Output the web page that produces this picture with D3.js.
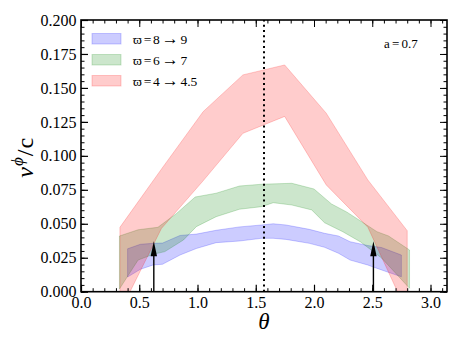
<!DOCTYPE html>
<html>
<head>
<meta charset="utf-8">
<script src="https://cdn.jsdelivr.net/npm/d3@7"></script>
<style>
  html, body { margin: 0; padding: 0; background: #fff; }
  svg { display: block; }
  text { font-family: "Liberation Serif", serif; fill: #000; }
</style>
</head>
<body>
<svg id="chart" width="463" height="347"></svg>
<script>
// ---------------- data ----------------
const seriesNames = [["ϖ", "=", "8", "→", "9"], ["ϖ", "=", "6", "→", "7"], ["ϖ", "=", "4", "→", "4.5"]];
const seriesColors = ["#0000ff", "#008000", "#ff0000"];

// ϖ = 8 → 9 (blue)
const blueTheta = [0.40,0.51,0.62,0.70,0.85,0.99,1.16,1.36,1.55,1.65,1.76,1.96,2.09,2.21,2.31,2.46,2.58,2.75];
const blueUpper = [0.0316,0.0349,0.0356,0.0358,0.0414,0.0424,0.0452,0.0477,0.0491,0.0500,0.0491,0.0459,0.0430,0.0410,0.0368,0.0340,0.0325,0.0270];
const blueLower = [0.0108,0.0165,0.0197,0.0202,0.0270,0.0318,0.0361,0.0373,0.0393,0.0393,0.0385,0.0356,0.0327,0.0283,0.0233,0.0197,0.0160,0.0110];

// ϖ = 6 → 7 (green)
const greenUpperTheta = [0.33,0.49,0.66,0.82,0.98,1.16,1.36,1.55,1.81,2.00,2.15,2.28,2.41,2.54,2.64,2.82];
const greenUpper      = [0.0410,0.0456,0.0474,0.0576,0.0697,0.0725,0.0778,0.0791,0.0798,0.0756,0.0646,0.0587,0.0515,0.0442,0.0410,0.0307];
const greenLowerTheta = [0.33,0.49,0.62,0.72,0.88,0.99,1.16,1.36,1.55,1.65,1.81,1.98,2.09,2.25,2.40,2.58,2.82];
const greenLower      = [0.0020,0.0233,0.0275,0.0295,0.0381,0.0479,0.0552,0.0607,0.0626,0.0655,0.0638,0.0602,0.0508,0.0440,0.0366,0.0248,0.0025];

// ϖ = 4 → 4.5 (red)
const redTheta = [0.334,0.69,1.048,1.39,1.748,2.105,2.462,2.80];
const redUpper = [0.0474,0.0902,0.1325,0.1596,0.1669,0.1314,0.0823,0.0449];
const redLower = [-0.0150,0.0465,0.0816,0.1166,0.1290,0.0786,0.0475,-0.0155];

// arrows and reference line
const arrowTheta = [0.625, 2.51];
const arrowTop = [0.0372, 0.0372];
const vlineTheta = Math.PI / 2;

const xTicks = [0.0, 0.5, 1.0, 1.5, 2.0, 2.5, 3.0];
const yTicks = [0.000, 0.025, 0.050, 0.075, 0.100, 0.125, 0.150, 0.175, 0.200];
const annotation = ["a", "=", "0.7"];

// ---------------- layout ----------------
const FONT = '"Liberation Serif", serif';
const svg = d3.select("#chart");
const W = 463, H = 347;
const m = { left: 81, top: 20, right: 16, bottom: 55.3 };
const x = d3.scaleLinear().domain([0, Math.PI]).range([m.left, W - m.right]);
const y = d3.scaleLinear().domain([0, 0.2]).range([H - m.bottom, m.top]);

svg.append("defs").append("clipPath").attr("id", "plotclip")
  .append("rect")
  .attr("x", m.left).attr("y", m.top)
  .attr("width", W - m.left - m.right).attr("height", H - m.top - m.bottom);

const plot = svg.append("g").attr("clip-path", "url(#plotclip)");

function bandPath(tu, u, tl, l) {
  const pts = tu.map((t, i) => [x(t), y(u[i])])
    .concat(tl.map((t, i) => [x(t), y(l[i])]).reverse());
  return d3.line()(pts) + "Z";
}

const bands = [
  bandPath(blueTheta, blueUpper, blueTheta, blueLower),
  bandPath(greenUpperTheta, greenUpper, greenLowerTheta, greenLower),
  bandPath(redTheta, redUpper, redTheta, redLower)
];
bands.forEach((d, i) => {
  plot.append("path").attr("d", d)
    .attr("fill", seriesColors[i]).attr("fill-opacity", 0.2)
    .attr("stroke", seriesColors[i]).attr("stroke-opacity", 0.2)
    .attr("stroke-width", 1);
});

// dotted vertical line
plot.append("line")
  .attr("x1", x(vlineTheta)).attr("x2", x(vlineTheta))
  .attr("y1", y(0)).attr("y2", y(0.2))
  .attr("stroke", "#000").attr("stroke-width", 2)
  .attr("stroke-dasharray", "2,3.3");

// arrows
arrowTheta.forEach((t, i) => {
  const ax = x(t), y0 = y(0), y1 = y(arrowTop[i]);
  plot.append("line").attr("x1", ax).attr("x2", ax)
    .attr("y1", y0).attr("y2", y1 + 6)
    .attr("stroke", "#000").attr("stroke-width", 1.4);
  plot.append("path")
    .attr("d", `M${ax},${y1} L${ax - 3.2},${y1 + 15} L${ax + 3.2},${y1 + 15} Z`)
    .attr("fill", "#000");
});

// ---------------- axes ----------------
const fmtX = d3.format(".1f"), fmtY = d3.format(".3f");
const xMinor = d3.range(0, 3.15, 0.1);
const yMinor = d3.range(0, 0.2001, 0.005);

function addAxis(axisGen, transform) {
  const g = svg.append("g").attr("transform", transform).call(axisGen);
  g.attr("font-family", null).attr("font-size", null);
  g.select(".domain").remove();
  g.selectAll(".tick line").attr("stroke", "#000").attr("stroke-width", 1);
  g.selectAll("text").style("font-family", FONT).style("font-size", "16px").attr("fill", "#000");
  return g;
}

// minor ticks (all sides, inward)
addAxis(d3.axisBottom(x).tickValues(xMinor).tickSize(-3.5).tickFormat(""), `translate(0,${y(0)})`);
addAxis(d3.axisTop(x).tickValues(xMinor).tickSize(-3.5).tickFormat(""), `translate(0,${y(0.2)})`);
addAxis(d3.axisLeft(y).tickValues(yMinor).tickSize(-3.5).tickFormat(""), `translate(${x(0)},0)`);
addAxis(d3.axisRight(y).tickValues(yMinor).tickSize(-3.5).tickFormat(""), `translate(${x(Math.PI)},0)`);

// major ticks
const gx = addAxis(d3.axisBottom(x).tickValues(xTicks).tickSize(-7).tickPadding(5).tickFormat(fmtX), `translate(0,${y(0)})`);
addAxis(d3.axisTop(x).tickValues(xTicks).tickSize(-7).tickFormat(""), `translate(0,${y(0.2)})`);
const gy = addAxis(d3.axisLeft(y).tickValues(yTicks).tickSize(-7).tickPadding(4.5).tickFormat(fmtY), `translate(${x(0)},0)`);
addAxis(d3.axisRight(y).tickValues(yTicks).tickSize(-7).tickFormat(""), `translate(${x(Math.PI)},0)`);
gx.selectAll(".tick line").attr("stroke-width", 1.2);
gy.selectAll(".tick line").attr("stroke-width", 1.2);

// frame
svg.append("rect")
  .attr("x", x(0)).attr("y", y(0.2))
  .attr("width", x(Math.PI) - x(0)).attr("height", y(0) - y(0.2))
  .attr("fill", "none").attr("stroke", "#000").attr("stroke-width", 1.6);

// axis labels
svg.append("text")
  .attr("x", x(Math.PI / 2)).attr("y", 329)
  .attr("text-anchor", "middle")
  .style("font-family", FONT)
  .style("font-size", "23px").style("font-style", "italic")
  .text("θ");

const yl = svg.append("text")
  .attr("transform", `translate(33,${(y(0) + y(0.2)) / 2 + 2}) rotate(-90)`)
  .attr("text-anchor", "middle")
  .style("font-family", FONT)
  .style("font-size", "24px");
yl.append("tspan").style("font-style", "italic").text("v");
yl.append("tspan").style("font-style", "italic").style("font-size", "17px").attr("dy", -10).attr("dx", 1).text("ϕ");
yl.append("tspan").attr("dy", 10).attr("dx", 1).text("/");
yl.append("tspan").attr("dx", 1).text("c");

// annotation
const an = svg.append("text").attr("x", 384).attr("y", 48)
  .style("font-family", FONT).style("font-size", "13px");
annotation.forEach((s, i) => an.append("tspan").attr("dx", i ? 2.2 : 0).text(s));

// legend
const lg = svg.append("g");
seriesNames.forEach((parts, i) => {
  const yy = 33.5 + i * 21;
  lg.append("rect").attr("x", 92).attr("y", yy).attr("width", 29).attr("height", 10.5)
    .attr("fill", seriesColors[i]).attr("fill-opacity", 0.2)
    .attr("stroke", seriesColors[i]).attr("stroke-opacity", 0.2);
  const t = lg.append("text").attr("x", 133).attr("y", yy + 10)
    .style("font-family", FONT).style("font-size", "13.5px");
  parts.forEach((s, j) => t.append("tspan").attr("dx", j ? 1.8 : 0)
    .style("font-size", s === "→" ? "17px" : null).text(s));
});
</script>
</body>
</html>
